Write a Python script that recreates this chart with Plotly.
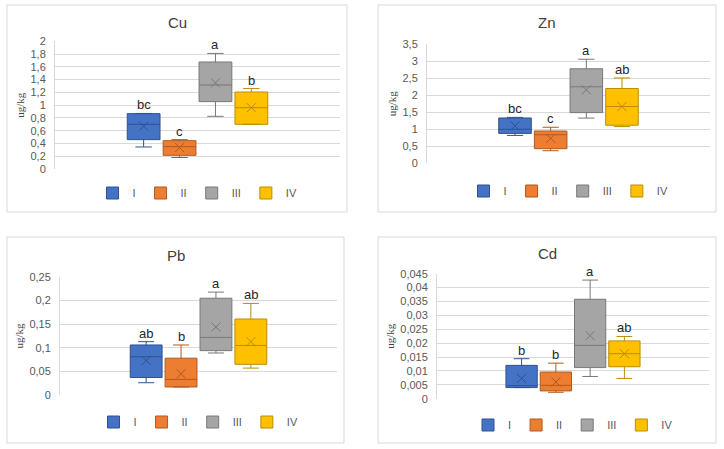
import plotly.graph_objects as go

W, H = 724, 449

groups = ["I", "II", "III", "IV"]
fill_colors = ["#4472C4", "#ED7D31", "#A5A5A5", "#FFC000"]
line_colors = ["#2F528F", "#AE5A21", "#787878", "#BC8C00"]

# ---- data ----
cu_min = [0.345, 0.18, 0.825, 0.70]
cu_q1 = [0.46, 0.214, 1.055, 0.70]
cu_med = [0.70, 0.35, 1.316, 0.96]
cu_q3 = [0.867, 0.444, 1.676, 1.206]
cu_max = [0.87, 0.46, 1.81, 1.26]
cu_mean = [0.67, 0.335, 1.35, 0.96]
cu_letters = ["bc", "c", "a", "b"]

zn_min = [0.82, 0.37, 1.33, 1.08]
zn_q1 = [0.88, 0.43, 1.49, 1.12]
zn_med = [1.0, 0.84, 2.25, 1.67]
zn_q3 = [1.333, 0.95, 2.78, 2.2]
zn_max = [1.35, 1.06, 3.06, 2.51]
zn_mean = [1.10, 0.735, 2.16, 1.67]
zn_letters = ["bc", "c", "a", "ab"]

pb_min = [0.026, 0.017, 0.089, 0.057]
pb_q1 = [0.037, 0.017, 0.094, 0.065]
pb_med = [0.081, 0.033, 0.122, 0.105]
pb_q3 = [0.106, 0.078, 0.205, 0.161]
pb_max = [0.113, 0.106, 0.218, 0.194]
pb_mean = [0.073, 0.045, 0.144, 0.113]
pb_letters = ["ab", "b", "a", "ab"]

cd_min = [0.004, 0.0023, 0.008, 0.0073]
cd_q1 = [0.004, 0.0028, 0.0112, 0.0115]
cd_med = [0.0047, 0.0048, 0.0192, 0.0162]
cd_q3 = [0.012, 0.0096, 0.0358, 0.0208]
cd_max = [0.0144, 0.0128, 0.0427, 0.0224]
cd_mean = [0.0073, 0.006, 0.0227, 0.0162]
cd_letters = ["b", "b", "a", "ab"]

y_ranges = {"Cu": (2, 0.2), "Zn": (3.5, 0.5), "Pb": (0.25, 0.05), "Cd": (0.045, 0.005)}

# ---- layout (pixel geometry of each panel) ----
# plot area: left, right, top, bottom ; frame: left, right, top, bottom ; title y ; legend y
panels = [
    ("Cu", (cu_min, cu_q1, cu_med, cu_q3, cu_max, cu_mean, cu_letters),
     (55, 340, 41.3, 169), (7, 347, 5, 212), 22, 193),
    ("Zn", (zn_min, zn_q1, zn_med, zn_q3, zn_max, zn_mean, zn_letters),
     (427, 710, 44.3, 163.3), (378, 716, 5, 212), 23, 191),
    ("Pb", (pb_min, pb_q1, pb_med, pb_q3, pb_max, pb_mean, pb_letters),
     (60, 337, 277, 395), (7, 344, 237, 443), 255, 422),
    ("Cd", (cd_min, cd_q1, cd_med, cd_q3, cd_max, cd_mean, cd_letters),
     (437, 709, 273.7, 398.7), (378, 716, 237, 443), 253, 425),
]

SLOT = 0.126       # dodge spacing between the 4 boxes (x units, range [-0.5, 0.5])
BOXW = 0.115

FONT = "Liberation Sans"
TXT = "#595959"
GRID = "#D9D9D9"

fig = go.Figure()
layout = dict(
    width=W, height=H, margin=dict(l=0, r=0, t=0, b=0, autoexpand=False),
    paper_bgcolor="white", plot_bgcolor="white",
    separators=",.", showlegend=True,
    font=dict(family=FONT, color=TXT, size=11),
)
shapes = []
annotations = []

for k, (name, vals, area, frame, title_y, leg_y) in enumerate(panels):
    vmin, vq1, vmed, vq3, vmax, vmean, letters = vals
    sfx = "" if k == 0 else str(k + 1)
    xa, ya = "x" + sfx, "y" + sfx
    leg = "legend" + sfx
    for i, g in enumerate(groups):
        pos = (i - 1.5) * SLOT
        fig.add_trace(go.Box(
            x=[pos], q1=[vq1[i]], median=[vmed[i]], q3=[vq3[i]],
            lowerfence=[vmin[i]], upperfence=[vmax[i]],
            width=BOXW, whiskerwidth=0.5, boxpoints=False,
            name=g, fillcolor=fill_colors[i],
            line=dict(color=line_colors[i], width=1),
            xaxis=xa, yaxis=ya, legend=leg, showlegend=True,
            hoverinfo="skip",
        ))
        fig.add_trace(go.Scatter(
            x=[pos], y=[vmean[i]], mode="markers",
            marker=dict(symbol="x-thin", size=9,
                        line=dict(width=1, color=line_colors[i])),
            xaxis=xa, yaxis=ya, showlegend=False, hoverinfo="skip",
        ))
        annotations.append(dict(
            x=pos, y=vmax[i], xref=xa, yref=ya, text=letters[i],
            showarrow=False, yanchor="bottom", yshift=-1,
            font=dict(family=FONT, size=13, color="#262626"),
        ))
    l, r, t, b = area
    ymax, dt = y_ranges[name]
    layout["xaxis" + sfx] = dict(
        domain=[l / W, r / W], range=[-0.5, 0.5], anchor=ya,
        showticklabels=False, showgrid=False, zeroline=False,
        showline=False, fixedrange=True,
    )
    layout["yaxis" + sfx] = dict(
        domain=[1 - b / H, 1 - t / H], range=[0, ymax], dtick=dt, tick0=0,
        anchor=xa, showgrid=True, gridcolor=GRID, gridwidth=1,
        zeroline=False, showline=True, linecolor=GRID, linewidth=1,
        ticks="", ticklabelstandoff=6,
        tickfont=dict(family=FONT, size=11, color=TXT),
        title=dict(text="ug/kg", font=dict(family="Liberation Serif", size=11, color="#404040"),
                   standoff=3),
    )
    fl, fr, ft, fb = frame
    shapes.append(dict(type="rect", xref="paper", yref="paper",
                       x0=fl / W, x1=fr / W, y0=1 - fb / H, y1=1 - ft / H,
                       line=dict(color=GRID, width=1), fillcolor="rgba(0,0,0,0)",
                       layer="below"))
    annotations.append(dict(
        x=(fl + fr) / 2 / W, y=1 - title_y / H, xref="paper", yref="paper",
        text=name, showarrow=False, xanchor="center", yanchor="middle",
        font=dict(family=FONT, size=15, color="#404040"),
    ))
    layout[leg] = dict(
        orientation="h", x=(l + r) / 2 / W, xanchor="center",
        y=1 - leg_y / H, yanchor="middle", bgcolor="rgba(0,0,0,0)",
        font=dict(family=FONT, size=11, color=TXT), itemclick=False,
        itemdoubleclick=False, tracegroupgap=0, itemwidth=30,
    )

layout["shapes"] = shapes
layout["annotations"] = annotations
fig.update_layout(**layout)
fig.write_html("out.html", config={"displayModeBar": False},
               post_script="document.body.style.margin='0';document.body.style.padding='0';")
